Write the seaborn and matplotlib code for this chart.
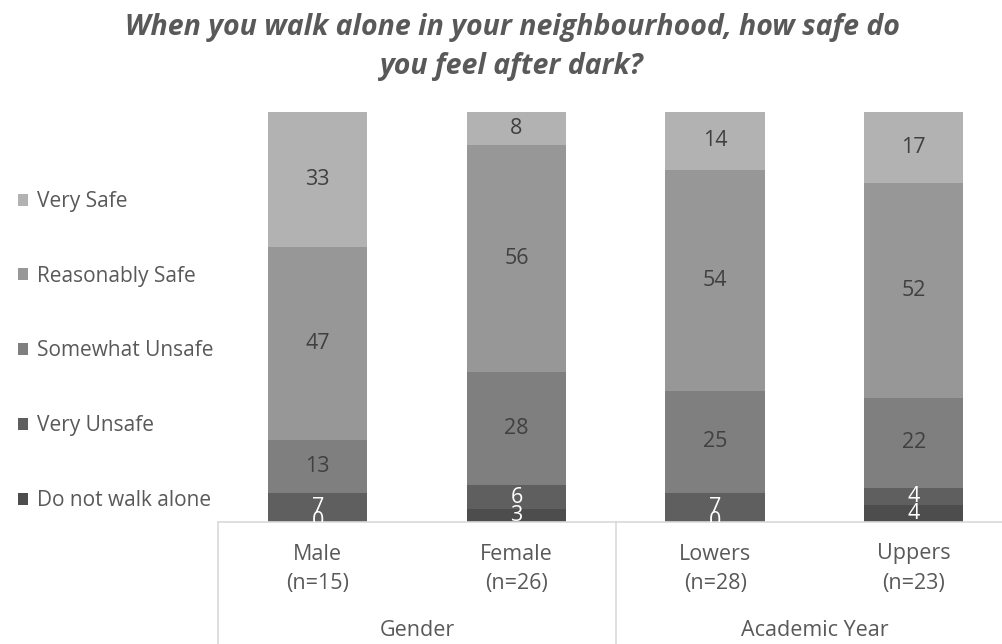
import matplotlib
matplotlib.use("Agg")
import matplotlib.pyplot as plt
import seaborn as sns
import pandas as pd
import numpy as np
from matplotlib.patches import Patch

# ---- data ----
groups = ["Male", "Female", "Lowers", "Uppers"]
n_labels = ["(n=15)", "(n=26)", "(n=28)", "(n=23)"]
parents = ["Gender", "Academic Year"]
series = ["Do not walk alone", "Very Unsafe", "Somewhat Unsafe", "Reasonably Safe", "Very Safe"]
do_not_walk = [0, 3, 0, 4]
very_unsafe = [7, 6, 7, 4]
somewhat_unsafe = [13, 28, 25, 22]
reasonably_safe = [47, 56, 54, 52]
very_safe = [33, 8, 14, 17]
colors = ["#4d4d4d", "#5f5f5f", "#7f7f7f", "#979797", "#b2b2b2"]
label_colors = ["white", "white", "#404040", "#404040", "#404040"]

values = np.array([do_not_walk, very_unsafe, somewhat_unsafe, reasonably_safe, very_safe], dtype=float)
totals = values.sum(axis=0)
pct = values / totals * 100.0
cum = np.cumsum(pct, axis=0)

FONT = "Open Sans"
sns.set_theme(style="white")
plt.rcParams["font.family"] = [FONT, "DejaVu Sans"]

LBL = 15.5
LEG = 15
fig = plt.figure(figsize=(10.02, 6.44), dpi=100)
ax = fig.add_axes([218.4 / 1002, 122.5 / 644, 794.7 / 1002, 409.2 / 644])

# draw cumulative bars, top series first so lower ones overlay
for i in range(len(series) - 1, -1, -1):
    df = pd.DataFrame({"group": groups, "cum": cum[i]})
    sns.barplot(data=df, x="group", y="cum", order=groups, color=colors[i],
                width=0.5, saturation=1, ax=ax, linewidth=0, zorder=2)

# data labels
for i in range(len(series)):
    bottoms = cum[i] - pct[i]
    for j in range(len(groups)):
        mid = bottoms[j] + pct[i][j] / 2
        ax.text(j, mid, f"{int(values[i][j])}", ha="center", va="center",
                fontsize=LBL, color=label_colors[i], clip_on=True, zorder=5)

ax.set_xlim(-0.5, 3.5)
ax.set_ylim(0, 100)
ax.set_xticks([])
ax.set_yticks([])
ax.set_xlabel("")
ax.set_ylabel("")
for s in ["top", "right", "left"]:
    ax.spines[s].set_visible(False)
ax.spines["bottom"].set_color("#d9d9d9")
ax.spines["bottom"].set_linewidth(1.2)

# multi-level category axis
tr = ax.get_xaxis_transform()
for j in range(len(groups)):
    ax.text(j, (521.5 - 554) / 409.2, groups[j], transform=tr, ha="center", va="center",
            fontsize=LBL, color="#595959")
    ax.text(j, (521.5 - 583) / 409.2, n_labels[j], transform=tr, ha="center", va="center",
            fontsize=LBL, color="#595959")
for k, p in enumerate(parents):
    ax.text(0.5 + 2 * k, (521.5 - 630) / 409.2, p, transform=tr, ha="center", va="center",
            fontsize=LBL, color="#595959")
for xv in [-0.5, 1.5]:
    ax.axvline(xv, ymin=-0.35, ymax=0, color="#d9d9d9", linewidth=1.2, clip_on=False)

# legend
handles = [Patch(facecolor=colors[i], edgecolor="none") for i in range(len(series) - 1, -1, -1)]
labels = [series[i] for i in range(len(series) - 1, -1, -1)]
fig.legend(handles, labels, loc="center left", bbox_to_anchor=(18 / 1002, (644 - 351) / 644),
           frameon=False, fontsize=LEG, labelcolor="#595959", handlelength=0.5,
           handleheight=0.5, handletextpad=0.42, labelspacing=2.58, borderpad=0,
           borderaxespad=0)

# title
fig.text(512 / 1002, (644 - 47) / 644,
         "When you walk alone in your neighbourhood, how safe do\nyou feel after dark?",
         ha="center", va="center", fontsize=20.5, fontweight="bold", fontstyle="italic",
         color="#595959", linespacing=1.42)

fig.savefig("out.png", dpi=100, facecolor="white")
